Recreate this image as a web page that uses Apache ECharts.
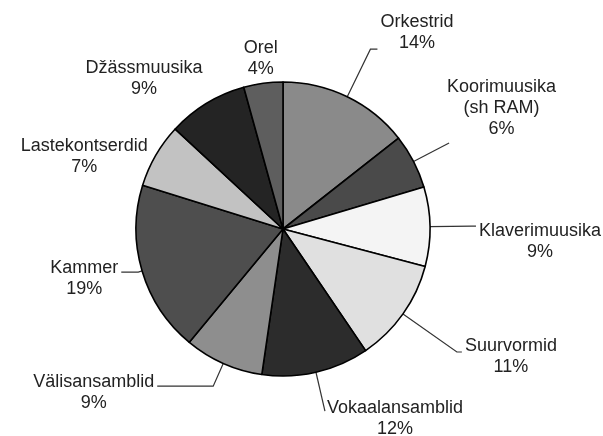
<!DOCTYPE html>
<html>
<head>
<meta charset="utf-8">
<script src="https://cdn.jsdelivr.net/npm/echarts@6/dist/echarts.min.js"></script>
<style>
  html, body { margin: 0; padding: 0; background: #fff; }
  #chart { width: 603px; height: 436px; }
</style>
</head>
<body>
<div id="chart"></div>
<script>
// andmed (osakaal %), päripäeva alates kella 12-st
const names = ["Orkestrid", "Koorimuusika\n(sh RAM)", "Klaverimuusika", "Suurvormid", "Vokaalansamblid",
  "Välisansamblid", "Kammer", "Lastekontserdid", "Džässmuusika", "Orel"];
const shares = [14.4, 6.0, 8.7, 11.4, 11.8, 8.7, 18.8, 7.1, 8.8, 4.3];
const colors = ["#8a8a8a", "#4a4a4a", "#f4f4f4", "#e0e0e0", "#2c2c2c",
  "#8e8e8e", "#4e4e4e", "#c2c2c2", "#242424", "#5e5e5e"];

// sildi paigutus: [joone pikkus, joone 2. lõik, kaugus jooneni, padding, joon nähtav]
const labelTweaks = [
  [53, 7, 3, [0, 0, 33, 0], true],
  [40, 0, -2, [0, 0, 71, 0], true],
  [42, 4, 3, [30, 0, 0, 0], true],
  [66, 5, 3, [9, 0, 0, 0], true],
  [40, 0, 2, [15, 0, 0, 0], true],
  [25, 56, 3, [13, 0, 0, 0], true],
  [4, 17, 3, [12, 0, 0, 0], true],
  [0, 5, 3, [2, 0, 0, 0], false],
  [29, 0, -11, [0, 0, 0, 0], false],
  [25, 0, -18, [0, 0, 0, 0], false]
];

let mycharts = echarts.init(document.getElementById("chart"));

let data = names.map((n, i) => {
  const t = labelTweaks[i];
  return {
    name: n,
    value: shares[i],
    itemStyle: { color: colors[i] },
    label: { distanceToLabelLine: t[2], padding: t[3] },
    labelLine: { show: t[4], length: t[0], length2: t[1] },
  };
});

let option = {
  animation: false,
  series: [
    {
      type: "pie",
      center: [283, 229],
      radius: 147,
      startAngle: 90,
      clockwise: true,
      avoidLabelOverlap: false,
      itemStyle: {
        borderColor: "#000",
        borderWidth: 1.6,
      },
      label: {
        show: true,
        position: "outside",
        formatter: (p) =>
          p.name.split("\n").map((s) => "{t|" + s + "}").join("\n") +
          "\n{t|" + Math.round(p.value) + "%}",
        rich: {
          t: {
            align: "center",
            fontFamily: "Liberation Sans, Arial, sans-serif",
            fontSize: 18,
            lineHeight: 21,
            color: "#222",
          },
        },
      },
      labelLine: {
        lineStyle: { color: "#333", width: 1.2 },
      },
      emphasis: { disabled: true },
      data: data,
    },
  ],
};
mycharts.setOption(option);
</script>
</body>
</html>
